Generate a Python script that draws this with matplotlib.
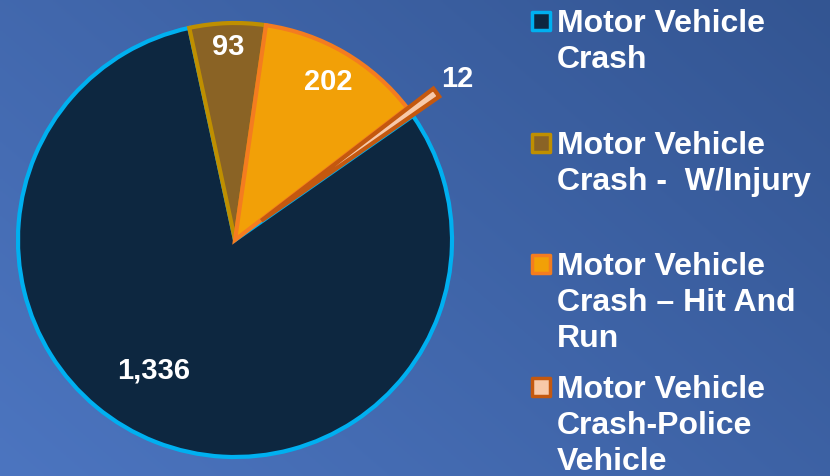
import numpy as np
import matplotlib.pyplot as plt

categories = ["Motor Vehicle\nCrash", "Motor Vehicle\nCrash -  W/Injury",
              "Motor Vehicle\nCrash \u2013 Hit And\nRun", "Motor Vehicle\nCrash-Police\nVehicle"]
values = [1336, 93, 202, 12]
value_labels = ["1,336", "93", "202", "12"]

face = ["#0d2740", "#8a6325", "#f2a007", "#f8c9a9"]
edge = ["#00b0f0", "#bf8f00", "#f47c20", "#c4580f"]
explode = [0, 0, 0, 0.15]

W, H = 830, 476
fig = plt.figure(figsize=(8.3, 4.76), dpi=100)
ax = fig.add_axes([0, 0, 1, 1])

# blue gradient background
yy, xx = np.mgrid[0:1:200j, 0:1:300j]
t = 0.6 * xx + 0.4 * yy
c0 = np.array([0x4c, 0x75, 0xc0]) / 255
c1 = np.array([0x33, 0x55, 0x92]) / 255
bg = c0[None, None, :] * (1 - t[..., None]) + c1[None, None, :] * t[..., None]
ax.imshow(bg, extent=[0, W, 0, H], origin="lower", aspect="auto", zorder=0)

cx, cy, r = 235, 236, 217
# explode in pie() is in data units, so scale by the radius
wedges, _ = ax.pie(values, colors=face, explode=[e * r for e in explode],
                   startangle=34.9, counterclock=False, center=(cx, cy),
                   radius=r, frame=True,
                   wedgeprops=dict(linewidth=3, zorder=2))
for w, ec in zip(wedges, edge):
    w.set_edgecolor(ec)
    w.set_joinstyle("miter")
ax.set_xlim(0, W)
ax.set_ylim(0, H)
ax.set_aspect("equal")
ax.axis("off")

# value labels (distance as fraction of radius, angle in degrees)
label_pos = [(0.71, -122.0), (0.89, 92.0), (0.845, 59.5), (1.265, 36.0)]
for lab, (d, a) in zip(value_labels, label_pos):
    ax.text(cx + d * r * np.cos(np.radians(a)), cy + d * r * np.sin(np.radians(a)),
            lab, color="white", fontsize=21, fontweight="bold",
            family="Liberation Sans", ha="center", va="center", zorder=5)

# legend
leg_y = [455, 333, 212, 89]
for name, fc, ec, y in zip(categories, face, edge, leg_y):
    ax.scatter([541], [y], marker="s", s=180, facecolor=fc, edgecolor=ec,
               linewidth=2.5, zorder=5)
    ax.text(557, y + 12, name, color="white", fontsize=23, fontweight="bold",
            family="Liberation Sans", ha="left", va="top", linespacing=1.26,
            zorder=5)

fig.savefig("out.png", dpi=100)
